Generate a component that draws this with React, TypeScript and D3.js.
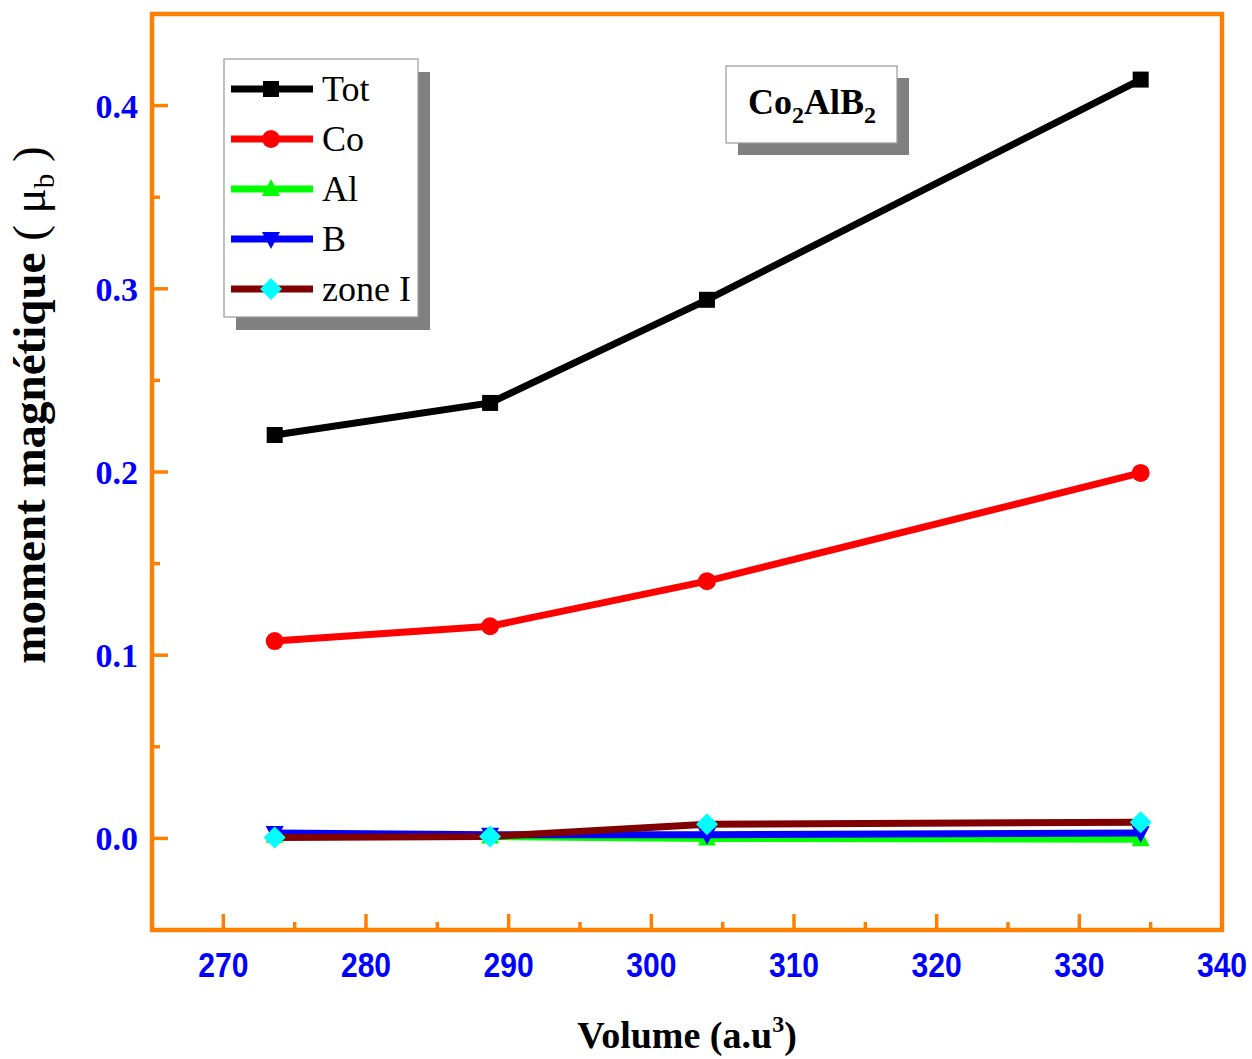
import React, { useEffect } from "react";
import * as d3 from "d3";

const volumes = [273.6, 288.7, 303.9, 334.3];
const totMoment = [0.2202, 0.2377, 0.294, 0.4142];
const coMoment = [0.1077, 0.1158, 0.1404, 0.1995];
const alMoment = [0.0015, 0.001, 0.0, -0.0005];
const bMoment = [0.003, 0.002, 0.002, 0.003];
const zoneMoment = [0.0005, 0.001, 0.0077, 0.0088];

const seriesNames = ["Tot", "Co", "Al", "B", "zone I"];
const lineColors = ["#000000", "#ff0000", "#00ff00", "#0000ff", "#800000"];
const markerColors = ["#000000", "#ff0000", "#00ff00", "#0000ff", "#00ffff"];
const markerTypes = ["square", "circle", "triangle", "triangleDown", "diamond"];

const xTicks = [270, 280, 290, 300, 310, 320, 330, 340];
const yTicks = [0.0, 0.1, 0.2, 0.3, 0.4];

const W = 1252;
const H = 1059;
const margin = { left: 152, right: 30, top: 14, bottom: 129 };
const orange = "#ff8000";
const serif = "'Liberation Serif', 'Times New Roman', serif";

function Marker({ type, x, y, color }: { type: string; x: number; y: number; color: string }) {
  if (type === "square") return <rect x={x - 8} y={y - 8} width={16} height={16} fill={color} />;
  if (type === "circle") return <circle cx={x} cy={y} r={9} fill={color} />;
  if (type === "triangle")
    return <path d={`M${x},${y - 10}L${x + 9},${y + 7}L${x - 9},${y + 7}Z`} fill={color} />;
  if (type === "triangleDown")
    return <path d={`M${x},${y + 10}L${x + 9},${y - 7}L${x - 9},${y - 7}Z`} fill={color} />;
  return <path d={`M${x},${y - 11}L${x + 11},${y}L${x},${y + 11}L${x - 11},${y}Z`} fill={color} />;
}

export default function App() {
  useEffect(() => {
    document.body.style.margin = "0";
  }, []);

  const series = [totMoment, coMoment, alMoment, bMoment, zoneMoment];
  const x = d3.scaleLinear().domain([265, 340]).range([margin.left, W - margin.right]);
  const y = d3.scaleLinear().domain([-0.05, 0.45]).range([H - margin.bottom, margin.top]);
  const line = d3
    .line<number>()
    .x((_, i) => x(volumes[i]))
    .y(d => y(d));

  const x0 = x.range()[0], x1 = x.range()[1];
  const y0 = y.range()[0], y1 = y.range()[1];
  const minorX = d3.range(265, 341, 5).filter(v => v % 10 !== 0);
  const minorY = [-0.05, 0.05, 0.15, 0.25, 0.35, 0.45];

  const legX = 224, legY = 59, legW = 194, legH = 258;

  return (
    <svg width={W} height={H} style={{ display: "block", background: "#fff" }}>
      {/* ticks (inward) */}
      {xTicks.map(t => (
        <line key={"xt" + t} x1={x(t)} x2={x(t)} y1={y0} y2={y0 - 16} stroke={orange} strokeWidth={3.5} />
      ))}
      {minorX.map(t => (
        <line key={"xm" + t} x1={x(t)} x2={x(t)} y1={y0} y2={y0 - 8} stroke={orange} strokeWidth={3.5} />
      ))}
      {yTicks.map(t => (
        <line key={"yt" + t} x1={x0} x2={x0 + 16} y1={y(t)} y2={y(t)} stroke={orange} strokeWidth={3.5} />
      ))}
      {minorY.map(t => (
        <line key={"ym" + t} x1={x0} x2={x0 + 8} y1={y(t)} y2={y(t)} stroke={orange} strokeWidth={3.5} />
      ))}
      <rect x={x0} y={y1} width={x1 - x0} height={y0 - y1} fill="none" stroke={orange} strokeWidth={4.5} />

      {/* tick labels */}
      {xTicks.map(t => (
        <text
          key={"xl" + t}
          transform={`translate(${x(t)},${y0 + 47}) scale(0.86,1)`}
          textAnchor="middle"
          fill="#0000ff"
          fontFamily="'Liberation Sans', Arial, sans-serif"
          fontWeight="bold"
          fontSize={35}
        >
          {t}
        </text>
      ))}
      {yTicks.map(t => (
        <text
          key={"yl" + t}
          x={x0 - 14}
          y={y(t) + 12}
          textAnchor="end"
          fill="#0000ff"
          fontFamily={serif}
          fontWeight="bold"
          fontSize={34}
        >
          {d3.format(".1f")(t)}
        </text>
      ))}

      {/* axis titles */}
      <text
        x={(x0 + x1) / 2}
        y={1048}
        textAnchor="middle"
        fontFamily={serif}
        fontWeight="bold"
        fontSize={38}
      >
        Volume (a.u<tspan dy={-16} fontSize={24}>3</tspan>
        <tspan dy={16}>)</tspan>
      </text>
      <text
        transform={`translate(45,${405}) rotate(-90)`}
        textAnchor="middle"
        fontFamily={serif}
        fontWeight="bold"
        fontSize={47}
      >
        moment magnétique <tspan fontWeight="normal">( μ</tspan>
        <tspan dy={9} fontSize={29} fontWeight="normal">b</tspan>
        <tspan dy={-9} fontWeight="normal"> )</tspan>
      </text>

      {/* series */}
      {series.map((s, si) => (
        <g key={"s" + si}>
          <path d={line(s) || ""} fill="none" stroke={lineColors[si]} strokeWidth={7} />
          {s.map((v, i) => (
            <Marker key={i} type={markerTypes[si]} x={x(volumes[i])} y={y(v)} color={markerColors[si]} />
          ))}
        </g>
      ))}

      {/* legend */}
      <rect x={legX + 12} y={legY + 13} width={legW} height={legH} fill="#808080" />
      <rect x={legX} y={legY} width={legW} height={legH} fill="#fff" stroke="#999" strokeWidth={1.2} />
      {seriesNames.map((n, i) => {
        const ly = legY + 30 + i * 50;
        return (
          <g key={"lg" + n}>
            <line x1={legX + 7} x2={legX + 89} y1={ly} y2={ly} stroke={lineColors[i]} strokeWidth={7} />
            <Marker type={markerTypes[i]} x={legX + 47} y={ly} color={markerColors[i]} />
            <text x={legX + 98} y={ly + 12} fontFamily={serif} fontSize={36}>
              {n}
            </text>
          </g>
        );
      })}

      {/* compound label */}
      <rect x={738} y={78} width={171} height={77} fill="#808080" />
      <rect x={726} y={66} width={171} height={77} fill="#fff" stroke="#999" strokeWidth={1.2} />
      <text x={812} y={114} textAnchor="middle" fontFamily={serif} fontWeight="bold" fontSize={36}>
        Co<tspan dy={9} fontSize={24}>2</tspan>
        <tspan dy={-9}>AlB</tspan>
        <tspan dy={9} fontSize={24}>2</tspan>
      </text>
    </svg>
  );
}
